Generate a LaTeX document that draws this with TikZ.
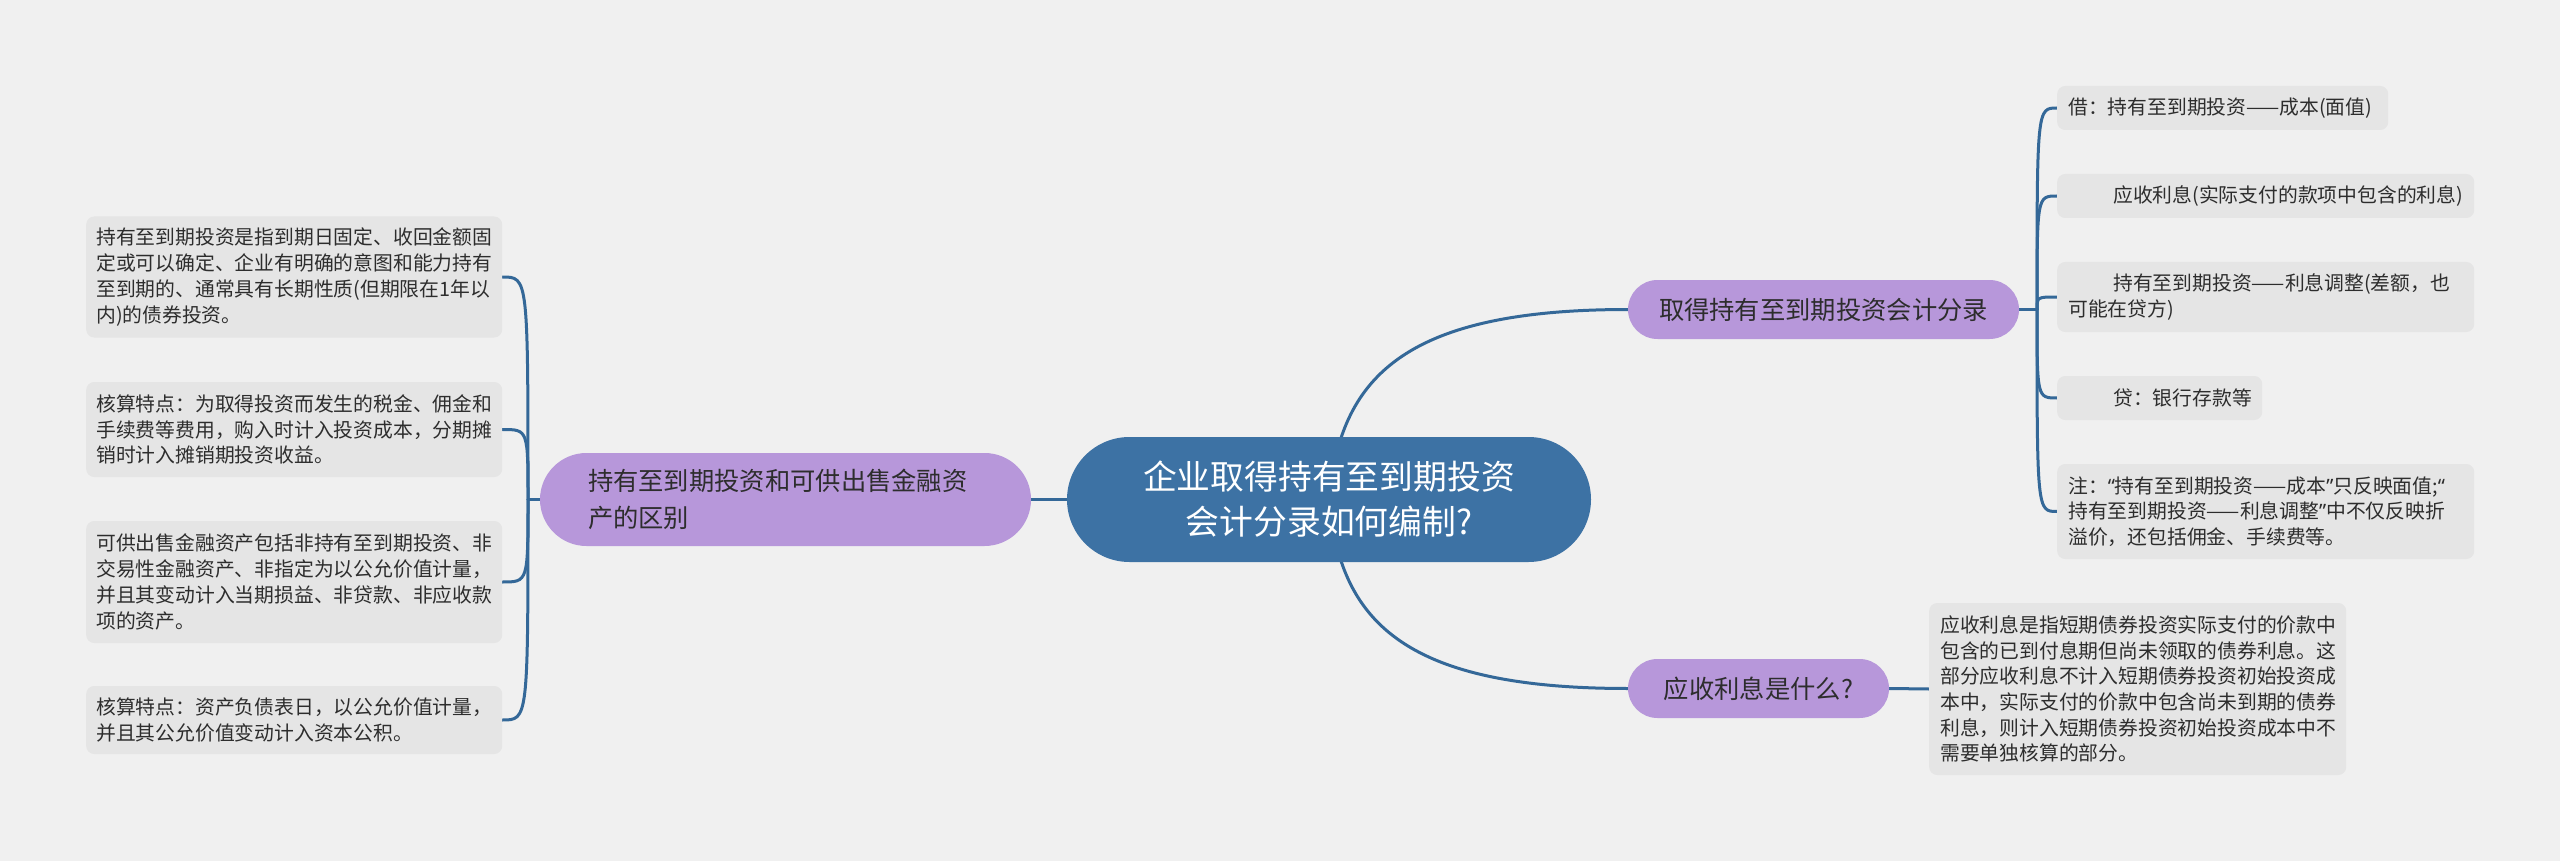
\documentclass[tikz,border=0pt]{standalone}
\usepackage{fontspec}
\setmainfont{Noto Sans CJK SC}
\newfontfamily\qf{Noto Sans}
\newcommand{\myoq}{{\qf “}}
\newcommand{\mycq}{{\qf ”}}
\definecolor{bgc}{RGB}{240,240,240}
\definecolor{leafc}{RGB}{229,229,229}
\definecolor{purp}{RGB}{183,151,218}
\definecolor{ctrc}{RGB}{61,114,164}
\definecolor{linec}{RGB}{52,104,152}
\definecolor{txt}{RGB}{45,45,45}
\pgfdeclarelayer{bglayer}
\pgfdeclarelayer{connlayer}
\pgfsetlayers{bglayer,connlayer,main}
\exhyphenpenalty=10000
\hyphenpenalty=10000
\begin{document}
\begin{tikzpicture}[x=1pt,y=-1pt,
  leaf/.style={fill=leafc, rounded corners=8pt, align=left, anchor=west, inner ysep=0pt, text=txt, font=\fontsize{19.8}{25.7}\selectfont},
  branch/.style={fill=purp, inner sep=0pt, text=txt, font=\fontsize{25.3}{37}\selectfont, minimum height=59pt, rounded corners=29.5pt},
  conn/.style={draw=linec, line width=3pt, line cap=round},
]
\begin{pgfonlayer}{bglayer}
\fill[bgc] (0,0) rectangle (2560,861);
\end{pgfonlayer}
\useasboundingbox (0,0) rectangle (2560,861);

% center
\node[fill=ctrc, text=white, rounded corners=62.5pt, minimum width=524pt, minimum height=125pt, inner sep=0pt, align=center, font=\fontsize{33.8}{45}\selectfont] (ctr) at (1329,499.5) {企业取得持有至到期投资\\会计分录如何编制?};

% branches
\node[branch, minimum width=491pt, minimum height=93pt, rounded corners=46.5pt, text width=395pt, inner xsep=48pt, align=left] (lb) at (785.5,499.5) {持有至到期投资和可供出售金融资\\产的区别};
\node[branch, minimum width=391pt, align=center] (b1) at (1823.5,309.5) {取得持有至到期投资会计分录};
\node[branch, minimum width=261pt, align=center] (b2) at (1758.5,688.5) {应收利息是什么?};

% left leaves
\node[leaf, text width=396pt, inner xsep=10pt, minimum height=121pt] (l1) at (86,277) {持有至到期投资是指到期日固定、收回金额固\\定或可以确定、企业有明确的意图和能力持有\\至到期的、通常具有长期性质(但期限在1年以\\内)的债券投资。};
\node[leaf, text width=396pt, inner xsep=10pt, minimum height=95pt] (l2) at (86,429.5) {核算特点：为取得投资而发生的税金、佣金和\\手续费等费用，购入时计入投资成本，分期摊\\销时计入摊销期投资收益。};
\node[leaf, text width=396pt, inner xsep=10pt, minimum height=122pt] (l3) at (86,582) {可供出售金融资产包括非持有至到期投资、非\\交易性金融资产、非指定为以公允价值计量，\\并且其变动计入当期损益、非贷款、非应收款\\项的资产。};
\node[leaf, text width=396pt, inner xsep=10pt, minimum height=68pt] (l4) at (86,720) {核算特点：资产负债表日，以公允价值计量，\\并且其公允价值变动计入资本公积。};

% right leaves
\node[leaf, text width=309pt, inner xsep=11pt, minimum height=44pt] (r1) at (2057,108) {借：持有至到期投资——成本(面值)};
\node[leaf, text width=395pt, inner xsep=11pt, minimum height=44pt] (r2) at (2057,196) {\hspace*{45pt}应收利息(实际支付的款项中包含的利息)};
\node[leaf, text width=395pt, inner xsep=11pt, minimum height=70pt] (r3) at (2057,297) {\hspace*{45pt}持有至到期投资——利息调整(差额，也\\可能在贷方)};
\node[leaf, text width=183pt, inner xsep=11pt, minimum height=44pt] (r4) at (2057,398) {\hspace*{45pt}贷：银行存款等};
\node[leaf, text width=395pt, inner xsep=11pt, minimum height=95pt] (r5) at (2057,511.5) {\mbox{注：\myoq 持有至到期投资——成本\mycq 只反映面值;\myoq}\\\mbox{持有至到期投资——利息调整\mycq 中不仅反映折}\\溢价，还包括佣金、手续费等。};

\node[leaf, text width=395pt, inner xsep=11pt, minimum height=172pt] (q1) at (1929,689) {应收利息是指短期债券投资实际支付的价款中\\包含的已到付息期但尚未领取的债券利息。这\\部分应收利息不计入短期债券投资初始投资成\\本中，实际支付的价款中包含尚未到期的债券\\利息，则计入短期债券投资初始投资成本中不\\需要单独核算的部分。};

\coordinate (lt) at (528,499.5);
\coordinate (rt) at (2037,309.5);

\begin{pgfonlayer}{connlayer}
\draw[conn] (ctr.west) -- (lb.east);
\draw[conn] (lb.west) -- (lt);
\foreach \n in {l1,l2,l3,l4}{
  \draw[conn] (lt) .. controls (lt |- \n.east) .. (\n.east);
}
\draw[conn] (ctr.center) .. controls (1340,380) and (1400,309.5) .. (b1.west);
\draw[conn] (ctr.center) .. controls (1340,619) and (1400,688.5) .. (b2.west);
\draw[conn] (b1.east) -- (rt);
\foreach \n in {r1,r2,r3,r4,r5}{
  \draw[conn] (rt) .. controls (rt |- \n.west) .. (\n.west);
}
\draw[conn] (b2.east) -- (q1.west);
\end{pgfonlayer}
\end{tikzpicture}
\end{document}
